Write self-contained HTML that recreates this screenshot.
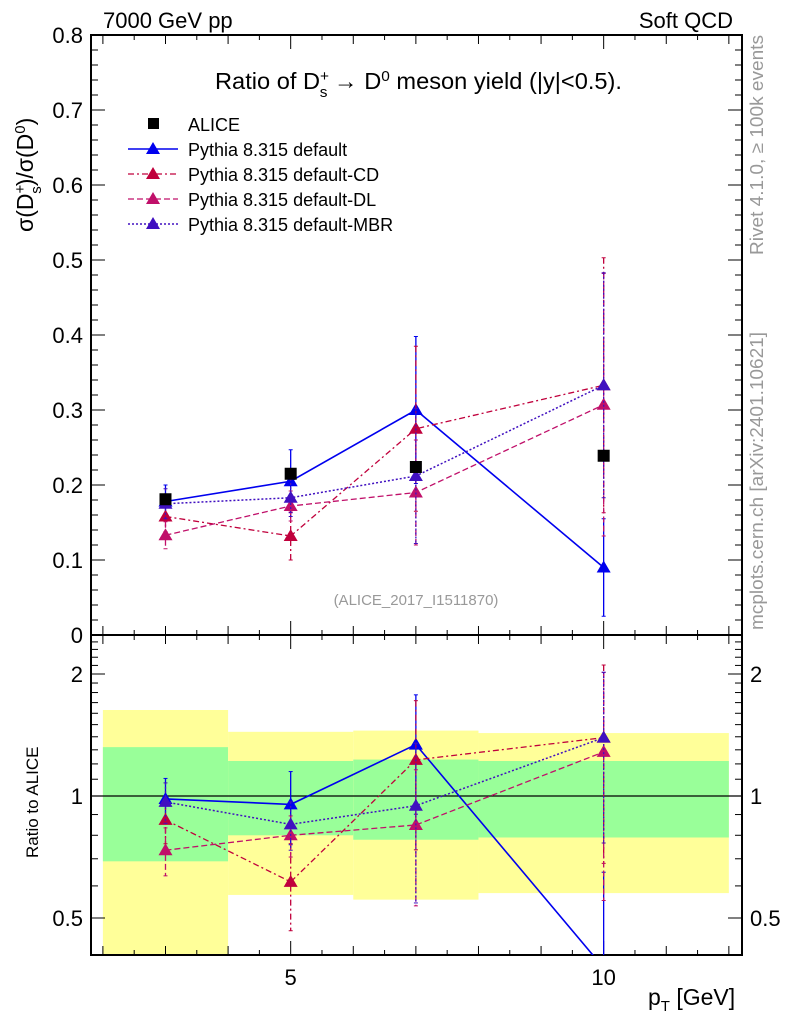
<!DOCTYPE html>
<html><head><meta charset="utf-8">
<style>
html,body{margin:0;background:#fff;overflow:hidden;width:786px;height:1024px;}
svg{display:block;font-family:"Liberation Sans",sans-serif;}
</style></head>
<body>
<svg id="c" width="786" height="1024" viewBox="0 0 786 1024" xmlns="http://www.w3.org/2000/svg"></svg>
<script>
const xCats=[3,5,7,10];
const aliceVals=[0.181,0.215,0.224,0.239];
const defVals=[0.178,0.205,0.300,0.090];
const defErr=[0.022,0.042,0.098,0.065];
const cdVals=[0.158,0.132,0.275,0.333];
const cdErr=[0.02,0.032,0.11,0.17];
const dlVals=[0.133,0.172,0.190,0.307];
const dlErr=[0.018,0.02,0.07,0.175];
const mbrVals=[0.175,0.183,0.212,0.333];
const mbrErr=[0.02,0.025,0.09,0.15];
const binEdges=[2,4,6,8,12];
const yellowHi=[1.63,1.44,1.45,1.43];
const yellowLo=[0.3,0.57,0.555,0.576];
const greenHi=[1.32,1.22,1.23,1.22];
const greenLo=[0.69,0.80,0.78,0.79];
const mainTicks=[0,0.1,0.2,0.3,0.4,0.5,0.6,0.7,0.8];
const ratioTicks=[0.5,1,2];
const xTickLabels=[5,10];

const svg=document.getElementById('c');
const NS='http://www.w3.org/2000/svg';
const L=91,R=742,T1=35,B1=635,T2=635,B2=955;
const X=v=>L+(v-1.81)*(R-L)/(12.21-1.81);
const Y=v=>B1-(v/0.8)*(B1-T1);
const RY=v=>796-122*Math.log2(v);
function el(tag,attrs,parent){const e=document.createElementNS(NS,tag);for(const k in attrs)e.setAttribute(k,attrs[k]);(parent||svg).appendChild(e);return e;}
function txt(s,x,y,attrs){const t=el('text',Object.assign({x:x,y:y},attrs||{}));t.textContent=s;return t;}

const bands=el('g',{'clip-path':'url(#rc)'});


const defs=el('defs',{});
const cp=el('clipPath',{id:'rc'},defs);el('rect',{x:L,y:T2,width:R-L,height:B2-T2},cp);
const cp2=el('clipPath',{id:'mc'},defs);el('rect',{x:L,y:T1,width:R-L,height:B1-T1},cp2);
for(let i=0;i<4;i++){
  const x0=X(binEdges[i]),x1=X(binEdges[i+1]);
  const yb=el('rect',{x:x0,y:RY(yellowHi[i]),width:x1-x0,height:RY(yellowLo[i])-RY(yellowHi[i]),fill:'#ffff99'},bands);
  
  
  const gb=el('rect',{x:x0,y:RY(greenHi[i]),width:x1-x0,height:RY(greenLo[i])-RY(greenHi[i]),fill:'#99ff99'},bands);
  
  
}
el('line',{x1:L,x2:R,y1:RY(1),y2:RY(1),stroke:'#000','stroke-width':1.2});

const f1=el('rect',{x:L,y:T1,width:R-L,height:B1-T1,fill:'none',stroke:'#000','stroke-width':2});

const f2=el('rect',{x:L,y:T2,width:R-L,height:B2-T2,fill:'none',stroke:'#000','stroke-width':2});


for(let v=2;v<=12.01;v+=0.5){
  const x=X(v);const maj=Number.isInteger(v);const big=(v===5||v===10);
  const len=big?14:(maj?9:5);
  [[T1,1],[B1,-1],[T2,1],[B2,-1]].forEach(([y,d])=>el('line',{x1:x,x2:x,y1:y,y2:y+d*len,stroke:'#000','stroke-width':1}));
}
xTickLabels.forEach(v=>{const t=txt(String(v),X(v),985,{'font-size':22,'text-anchor':'middle'});});
for(let i=0;i<=40;i++){const v=i*0.02;const y=Y(v);const maj=i%5===0;const len=maj?14:7;
  el('line',{x1:L,x2:L+len,y1:y,y2:y,stroke:'#000'});el('line',{x1:R,x2:R-len,y1:y,y2:y,stroke:'#000'});}
mainTicks.forEach(v=>{const t=txt(v===0?'0':v.toFixed(1),83,Y(v)+8,{'font-size':22,'text-anchor':'end'});});
const rminor=[0.5,0.6,0.7,0.8,0.9,1,1.1,1.2,1.3,1.4,1.5,1.6,1.7,1.8,1.9,2,2.1,2.2,2.3,2.4];
rminor.forEach(v=>{const y=RY(v);const maj=ratioTicks.includes(v);const len=maj?14:7;
  el('line',{x1:L,x2:L+len,y1:y,y2:y,stroke:'#000'});el('line',{x1:R,x2:R-len,y1:y,y2:y,stroke:'#000'});});
ratioTicks.forEach(v=>{[83,750].forEach((x,j)=>{const t=txt(String(v),x,RY(v)+8,{'font-size':22,'text-anchor':j?'start':'end'});});});

const series=[
 {name:'default',vals:defVals,err:defErr,color:'#0000ee',dash:'',w:1.6},
 {name:'default-cd',vals:cdVals,err:cdErr,color:'#c0003c',dash:'6,3,2,3',w:1.3},
 {name:'default-dl',vals:dlVals,err:dlErr,color:'#c0106a',dash:'6,3',w:1.3},
 {name:'default-mbr',vals:mbrVals,err:mbrErr,color:'#4010c0',dash:'2,2',w:1.5}
];
function tri(g,x,y,c){const p=el('polygon',{points:`${x},${y-7} ${x-7},${y+5} ${x+7},${y+5}`,fill:c},g);return p;}
series.forEach(s=>{
  const g=el('g',{'clip-path':'url(#mc)'});
  
  const pts=xCats.map((x,i)=>X(x)+','+Y(s.vals[i])).join(' ');
  el('polyline',{points:pts,fill:'none',stroke:s.color,'stroke-width':s.w,'stroke-dasharray':s.dash},g);
  xCats.forEach((x,i)=>{
    const y1=Y(s.vals[i]+s.err[i]),y2=Y(Math.max(0,s.vals[i]-s.err[i]));
    el('line',{x1:X(x),x2:X(x),y1:y1,y2:y2,stroke:s.color,'stroke-width':1.3,'stroke-dasharray':s.dash},g);
    el('line',{x1:X(x)-2,x2:X(x)+2,y1:y1,y2:y1,stroke:s.color},g);
    el('line',{x1:X(x)-2,x2:X(x)+2,y1:y2,y2:y2,stroke:s.color},g);
    const m=tri(g,X(x),Y(s.vals[i]),s.color);
    
  });
  const gr=el('g',{'clip-path':'url(#rc)'});
  
  const rp=xCats.map((x,i)=>X(x)+','+RY(s.vals[i]/aliceVals[i])).join(' ');
  el('polyline',{points:rp,fill:'none',stroke:s.color,'stroke-width':s.w,'stroke-dasharray':s.dash},gr);
  xCats.forEach((x,i)=>{
    const r=s.vals[i]/aliceVals[i],ru=(s.vals[i]+s.err[i])/aliceVals[i],rd=Math.max(0.01,s.vals[i]-s.err[i])/aliceVals[i];
    el('line',{x1:X(x),x2:X(x),y1:RY(ru),y2:RY(rd),stroke:s.color,'stroke-width':1.3,'stroke-dasharray':s.dash},gr);
    el('line',{x1:X(x)-2,x2:X(x)+2,y1:RY(ru),y2:RY(ru),stroke:s.color},gr);
    el('line',{x1:X(x)-2,x2:X(x)+2,y1:RY(rd),y2:RY(rd),stroke:s.color},gr);
    const m=tri(gr,X(x),RY(r),s.color);
    
  });
});
xCats.forEach((x,i)=>{const r=el('rect',{x:X(x)-6,y:Y(aliceVals[i])-6,width:12,height:12,fill:'#000'});
  });

let t;
t=txt('7000 GeV pp',103,28,{'font-size':22});
t=txt('Soft QCD',733,28,{'font-size':22,'text-anchor':'end'});
t=el('text',{x:215,y:89,'font-size':23,textLength:407,lengthAdjust:'spacingAndGlyphs'});t.innerHTML='Ratio of D<tspan dy="-8" font-size="15">+</tspan><tspan dx="-9" dy="16" font-size="15">s</tspan><tspan dy="-8"> → D</tspan><tspan dy="-8" font-size="15">0</tspan><tspan dy="8"> meson yield (|y|&lt;0.5).</tspan>';

t=el('text',{transform:'translate(33,232) rotate(-90)','font-size':23});t.innerHTML='σ(D<tspan dy="-8" font-size="15">+</tspan><tspan dx="-9" dy="16" font-size="15">s</tspan><tspan dy="-8">)/σ(D</tspan><tspan dy="-8" font-size="15">0</tspan><tspan dy="8">)</tspan>';

t=txt('Ratio to ALICE',0,0,{'font-size':17,transform:'translate(38,858) rotate(-90)'});
t=el('text',{x:648,y:1005,'font-size':23});t.innerHTML='p<tspan dy="6" font-size="15">T</tspan><tspan dy="-6"> [GeV]</tspan>';

t=txt('(ALICE_2017_I1511870)',416,605,{'font-size':15,'text-anchor':'middle',fill:'#999'});
t=txt('Rivet 4.1.0, ≥ 100k events',0,0,{'font-size':18,fill:'#999',transform:'translate(763,255) rotate(-90)',textLength:220,lengthAdjust:'spacingAndGlyphs'});
t=txt('mcplots.cern.ch [arXiv:2401.10621]',0,0,{'font-size':18,fill:'#999',transform:'translate(763,630) rotate(-90)',textLength:298,lengthAdjust:'spacingAndGlyphs'});

const lg=el('g',{});
el('rect',{x:148,y:118,width:11,height:11,fill:'#000'},lg);
t=txt('ALICE',188,131,{'font-size':18});lg.appendChild(t);
const legW=[171,161,159,227];
series.forEach((s,i)=>{const y=149+i*25;
  el('line',{x1:128,x2:178,y1:y,y2:y,stroke:s.color,'stroke-width':s.w,'stroke-dasharray':s.dash},lg);
  tri(lg,153,y,s.color);
  const lt=txt('Pythia 8.315 '+s.name.replace('-cd','-CD').replace('-dl','-DL').replace('-mbr','-MBR'),188,y+7,{'font-size':18});lg.appendChild(lt);
  
});
</script>
</body></html>
